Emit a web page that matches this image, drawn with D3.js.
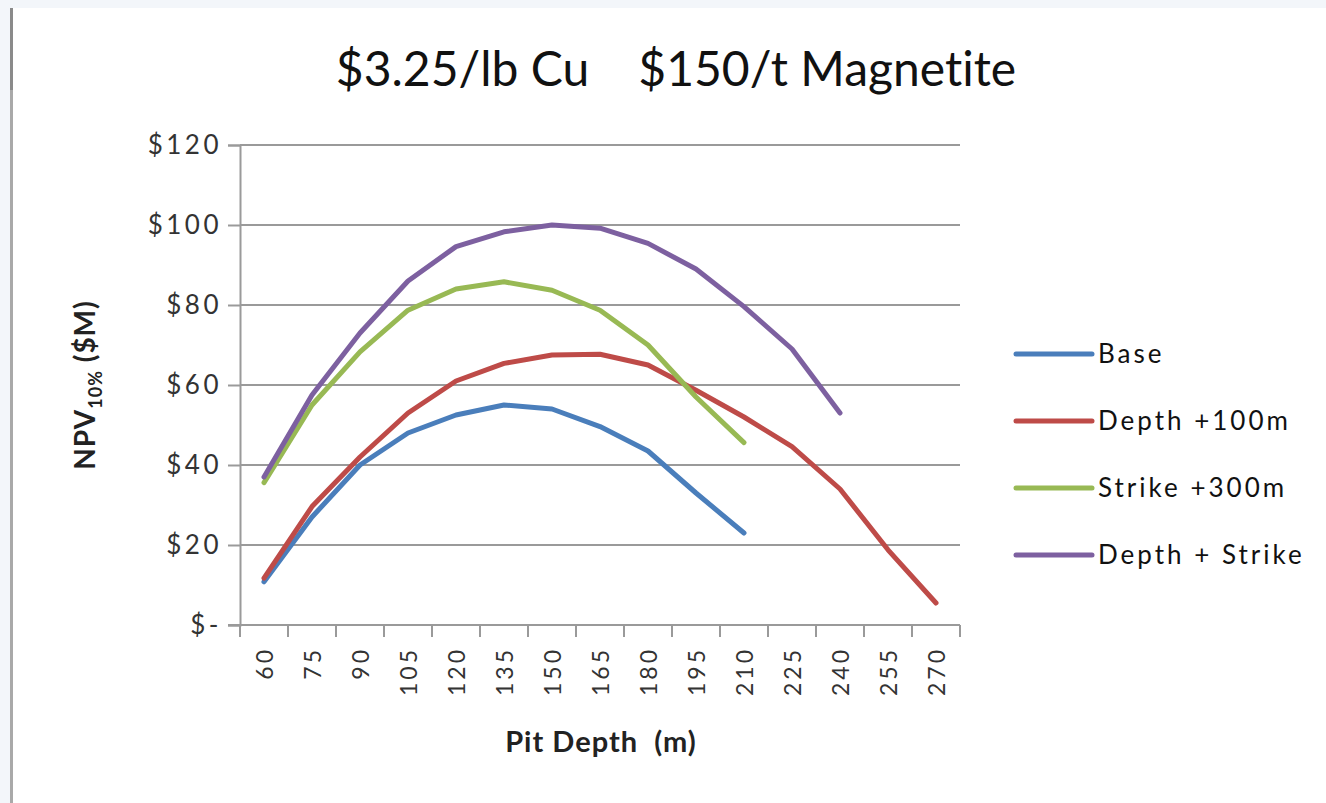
<!DOCTYPE html>
<html>
<head>
<meta charset="utf-8">
<script src="https://cdn.jsdelivr.net/npm/d3@7"></script>
<style>
  body { margin: 0; background: #f3f6fa; }
  #chart { position: absolute; left: 0; top: 0; }
  text { font-family: Lato, "Open Sans", sans-serif; font-variant-ligatures: none; }
</style>
</head>
<body>
<div id="chart"></div>
<script>
// pit depth categories (m)
const depths = [60, 75, 90, 105, 120, 135, 150, 165, 180, 195, 210, 225, 240, 255, 270];
const yTicks = [0, 20, 40, 60, 80, 100, 120];

// NPV10% ($M) per scenario
const base        = [10.8, 27, 40, 48, 52.5, 55, 54, 49.6, 43.5, 33, 23];
const depth100    = [11.7, 29.6, 42, 53, 61, 65.4, 67.5, 67.7, 65, 58.7, 52, 44.6, 34, 18.8, 5.5];
const strike300   = [35.6, 55, 68.3, 78.7, 84, 85.8, 83.7, 78.7, 70, 57, 45.6];
const depthStrike = [37, 57.5, 73, 86, 94.6, 98.3, 100, 99.2, 95.4, 89, 79.6, 69, 53];

const seriesNames  = ["Base", "Depth +100m", "Strike +300m", "Depth + Strike"];
const seriesValues = [base, depth100, strike300, depthStrike];
const seriesColors = ["#4a7ebb", "#be4b48", "#98b954", "#7d60a0"];

const W = 1326, H = 803;
const plot = {left: 240, right: 960, top: 145, bottom: 625};

const svg = d3.select("#chart").append("svg")
  .attr("width", W).attr("height", H);

// page frame
svg.append("rect").attr("x", 11).attr("y", 8).attr("width", W - 11).attr("height", H - 8).attr("fill", "white");
svg.append("rect").attr("x", 10).attr("y", 8).attr("width", 3).attr("height", 82).attr("fill", "#8a8a8a");
svg.append("rect").attr("x", 10).attr("y", 90).attr("width", 3).attr("height", H - 90).attr("fill", "#a9a9a9");

const x = d3.scaleBand().domain(depths).range([plot.left, plot.right]);
const y = d3.scaleLinear().domain([0, 120]).range([plot.bottom, plot.top]);

// gridlines
svg.append("g")
  .selectAll("line")
  .data(yTicks.slice(1))
  .join("line")
    .attr("x1", plot.left).attr("x2", plot.right)
    .attr("y1", d => y(d)).attr("y2", d => y(d))
    .attr("stroke", "#9a9a9a").attr("stroke-width", 2);

// y axis
const yAxis = svg.append("g")
  .attr("transform", `translate(${plot.left},0)`)
  .call(d3.axisLeft(y).tickValues(yTicks).tickSize(12).tickPadding(6)
    .tickFormat(d => d === 0 ? "$-" : "$" + d));
yAxis.select(".domain").attr("stroke", "#9a9a9a").attr("stroke-width", 2);
yAxis.selectAll(".tick line").attr("stroke", "#9a9a9a").attr("stroke-width", 2);
yAxis.selectAll(".tick text")
  .attr("font-size", 26).attr("fill", "#333").attr("letter-spacing", 3.5)
  .attr("font-family", "Lato, sans-serif");

// x axis (ticks on band boundaries)
const xg = svg.append("g").attr("transform", `translate(0,${plot.bottom})`);
xg.append("line").attr("x1", plot.left - 12).attr("x2", plot.right)
  .attr("stroke", "#9a9a9a").attr("stroke-width", 2);
xg.selectAll("line.tk")
  .data(depths.concat([null]))
  .join("line").attr("class", "tk")
    .attr("x1", (d, i) => plot.left + i * x.step())
    .attr("x2", (d, i) => plot.left + i * x.step())
    .attr("y1", 0).attr("y2", 12)
    .attr("stroke", "#9a9a9a").attr("stroke-width", 2);
xg.selectAll("text")
  .data(depths)
  .join("text")
    .attr("transform", d => `translate(${x(d) + x.bandwidth() / 2 + 9},22) rotate(-90)`)
    .attr("text-anchor", "end")
    .attr("font-size", 23).attr("fill", "#333").attr("letter-spacing", 3)
    .text(d => d);

// lines
const line = d3.line()
  .x((d, i) => x(depths[i]) + x.bandwidth() / 2)
  .y(d => y(d));

svg.append("g")
  .selectAll("path")
  .data(seriesValues)
  .join("path")
    .attr("d", line)
    .attr("fill", "none")
    .attr("stroke", (d, i) => seriesColors[i])
    .attr("stroke-width", 5)
    .attr("stroke-linecap", "round")
    .attr("stroke-linejoin", "round");

// title
svg.append("text")
  .attr("x", 676).attr("y", 86)
  .attr("text-anchor", "middle")
  .attr("font-size", 48)
  .attr("fill", "#111")
  .style("white-space", "pre")
  .text("$3.25/lb Cu    $150/t Magnetite");

// axis titles
svg.append("text")
  .attr("x", 601).attr("y", 752)
  .attr("text-anchor", "middle")
  .attr("font-size", 29).attr("font-weight", "bold").attr("fill", "#222")
  .attr("letter-spacing", 1)
  .text("Pit Depth  (m)").style("white-space", "pre");

const yt = svg.append("text")
  .attr("transform", "translate(95,385) rotate(-90)")
  .attr("text-anchor", "middle")
  .attr("font-size", 28).attr("font-weight", "bold").attr("fill", "#222")
  .attr("letter-spacing", 1);
yt.append("tspan").text("NPV");
yt.append("tspan").attr("font-size", 18).attr("dy", 7).text("10%");
yt.append("tspan").attr("dy", -7).text(" ($M)");

// legend
const legend = svg.append("g")
  .selectAll("g")
  .data(seriesNames)
  .join("g")
    .attr("transform", (d, i) => `translate(1016,${354 + i * 67})`);
legend.append("line")
  .attr("x1", 0).attr("x2", 76)
  .attr("stroke", (d, i) => seriesColors[i])
  .attr("stroke-width", 5).attr("stroke-linecap", "round");
legend.append("text")
  .attr("x", 82).attr("dy", "0.35em")
  .attr("font-size", 26).attr("fill", "#111").attr("letter-spacing", 3)
  .text(d => d);
</script>
</body>
</html>
